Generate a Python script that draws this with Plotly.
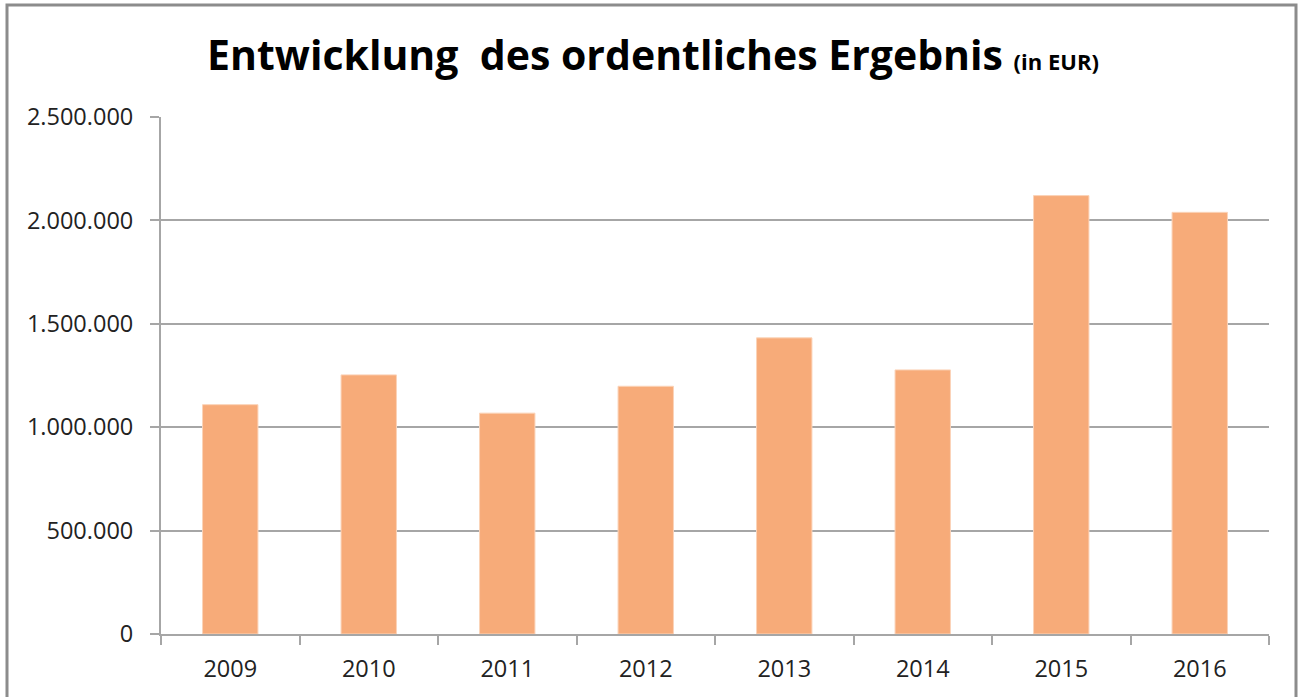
import plotly.graph_objects as go

# data
years = ['2009', '2010', '2011', '2012', '2013', '2014', '2015', '2016']
ergebnis = [1109000, 1253000, 1068000, 1198000, 1432000, 1277000, 2120000, 2039000]
tick_vals = [0, 500000, 1000000, 1500000, 2000000, 2500000]
tick_text = ['0', '500.000', '1.000.000', '1.500.000', '2.000.000', '2.500.000']

bar_color = '#F7AB79'
grid_color = '#A6A6A6'

fig = go.Figure(go.Bar(
    x=years,
    y=ergebnis,
    marker=dict(color=bar_color, line=dict(color='#FBD3B8', width=1)),
    hoverinfo='x+y'
))

fig.update_layout(
    width=1298, height=697,
    margin=dict(l=161, r=29, t=117, b=63),
    paper_bgcolor='white',
    plot_bgcolor='white',
    bargap=0.6,
    showlegend=False,
    title=dict(
        text='<b>Entwicklung  des ordentliches Ergebnis</b> <b><span style="font-size:22px">(in EUR)</span></b>',
        x=653 / 1298, xanchor='center', xref='container',
        y=1 - 56 / 697, yanchor='middle', yref='container',
        font=dict(family='Open Sans, sans-serif', size=41, color='black')
    ),
    font=dict(family='Open Sans, DejaVu Sans, sans-serif', size=23.5, color='#222222'),
)

fig.update_yaxes(
    range=[0, 2500000],
    tickvals=tick_vals,
    ticktext=tick_text,
    showgrid=True, gridcolor=grid_color, gridwidth=2,
    zeroline=False,
    showline=True, linecolor=grid_color, linewidth=2,
    ticks='outside', ticklen=9, tickcolor=grid_color, tickwidth=2,
    ticklabelstandoff=12,
)

fig.update_xaxes(
    type='category',
    showgrid=False,
    showline=True, linecolor=grid_color, linewidth=2,
    ticks='outside', tickson='boundaries', ticklen=9, tickcolor=grid_color, tickwidth=2,
    ticklabelstandoff=13,
)

# outer chart frame
fig.add_shape(type='rect', xref='paper', yref='paper',
              x0=(7 - 161) / 1108, x1=(1296 - 161) / 1108,
              y0=-0.2, y1=(634 - 5) / 517,
              line=dict(color='#8C8C8C', width=3), fillcolor='rgba(0,0,0,0)',
              layer='below')

# the page has a default body margin; drop it so the chart sits at the window's corner
fig.write_html('out.html', config={'displayModeBar': False},
               post_script="document.body.style.margin='0';")
